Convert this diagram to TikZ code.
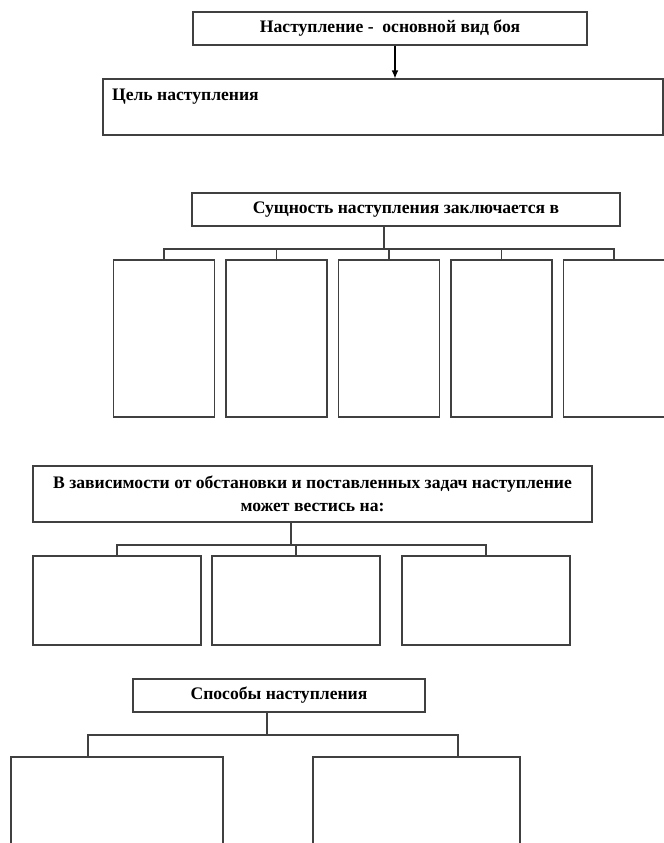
\documentclass[tikz,border=0pt]{standalone}
\usepackage{fontspec}
\setmainfont{Liberation Serif}
\usetikzlibrary{arrows.meta}

\begin{document}
\begin{tikzpicture}[x=0.75pt,y=-0.75pt,
                    box/.style={draw=black!75,line width=0.8pt,inner sep=0pt},
                    head/.style={box,font=\fontsize{13.2}{15}\selectfont\bfseries,minimum height=24.75pt},
                    link/.style={draw=black!75,line width=0.8pt}]
                      \useasboundingbox (0,0) rectangle (664,843);
                      % top: main box and goal
                      \node[head,minimum width=295.5pt](main)at(390,28.5){Наступление -\ \ основной вид боя};
                      \node[box,minimum width=420pt,minimum height=42pt,
                            label={[font=\fontsize{13.2}{15}\selectfont\bfseries,anchor=north west,inner sep=0pt,xshift=7pt,yshift=-8pt]north west:Цель наступления}](goal)at(383,107){};
                      \coordinate(ar)at(395,0);
                      \draw[-{Latex[length=6pt,width=5pt]},black,line width=0.8pt](main.south -| ar)--(goal.north -| ar);
                      % essence
                      \node[head,minimum width=321pt](ess)at(406,209.5){Сущность наступления заключается в};
                      \foreach \i in {1,...,5} \node[box,minimum width=75.75pt,minimum height=117.75pt](e\i)at({164+112.5*(\i-1)},338.5){};
                      \coordinate(es)at(384,249);
                      \draw[link](es |- ess.south)--(es);
                      \draw[link](e1.north)|-(es)-|(e5.north);
                      \foreach \i in {2,3,4} \draw[link](e\i.north)--(e\i.north |- es);
                      % conditions
                      \node[box,minimum width=419.25pt,minimum height=42pt,align=center,
                            font=\fontsize{13.2}{17.5}\selectfont\bfseries](cond)at(312.5,494){В зависимости от обстановки и поставленных задач наступление\\может вестись на:};
                      \foreach \i/\x in {1/117,2/296,3/486} \node[box,minimum width=126pt,minimum height=66.75pt](c\i)at(\x,600.5){};
                      \coordinate(cs)at(291,545);
                      \draw[link](cs |- cond.south)--(cs);
                      \draw[link](c1.north)|-(cs)-|(c3.north);
                      \draw[link](c2.north)--(c2.north |- cs);
                      % methods
                      \node[head,minimum width=219pt](way)at(279,695.5){Способы наступления};
                      \node[box,minimum width=159pt,minimum height=78pt](w1)at(117,809){};
                      \node[box,minimum width=155.25pt,minimum height=78pt](w2)at(416.5,809){};
                      \coordinate(ws)at(267,735);
                      \coordinate(wl)at(88,735);
                      \coordinate(wr)at(458,735);
                      \draw[link](ws |- way.south)--(ws);
                      \draw[link](wl |- w1.north)--(wl)--(wr)--(wr |- w2.north);
                  \end{tikzpicture}
\end{document}
